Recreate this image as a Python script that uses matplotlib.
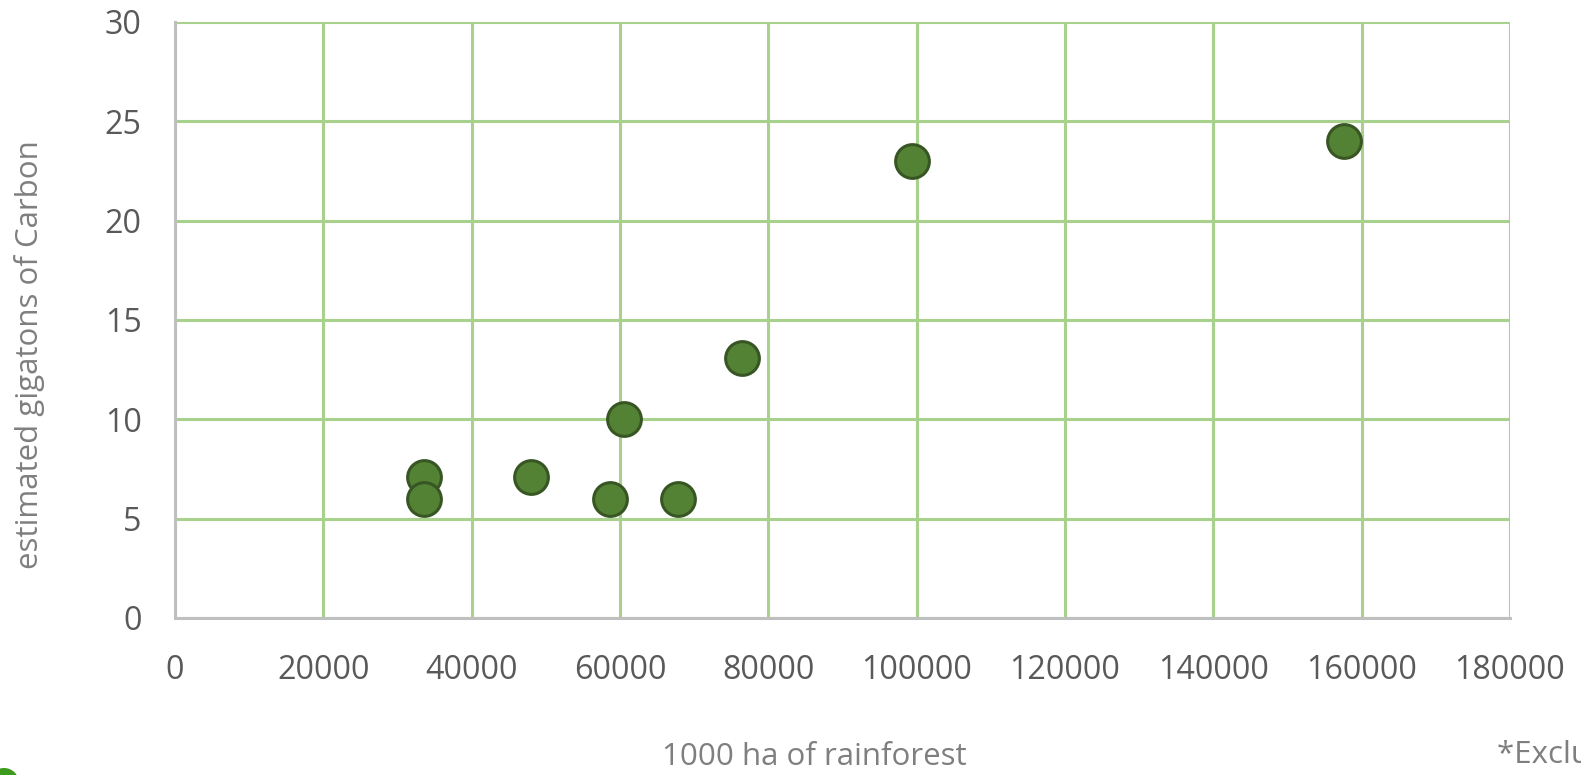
import matplotlib
matplotlib.use("Agg")
import matplotlib.pyplot as plt
from matplotlib.patches import Ellipse

# Superficie de bosque lluvioso (1000 ha) vs carbono estimado (Gt)
rainforest_kha = [33600, 33600, 48000, 58600, 60500, 67800, 76400, 99400, 157600]
carbon_gt = [7.1, 6.0, 7.1, 6.0, 10.0, 6.0, 13.1, 23.0, 24.0]

x_ticks = [0, 20000, 40000, 60000, 80000, 100000, 120000, 140000, 160000, 180000]
y_ticks = [0, 5, 10, 15, 20, 25, 30]

plt.rcParams["font.family"] = ["Open Sans", "DejaVu Sans"]

W, H = 1581, 775
fig = plt.figure(figsize=(W / 100, H / 100), dpi=100)
ax = fig.add_axes([175 / W, 1 - 618 / H, (1510 - 175) / W, (618 - 22) / H])

ax.scatter(rainforest_kha, carbon_gt, s=590, c="#548235", edgecolors="#375623",
           linewidths=2.2, zorder=5, clip_on=False)

ax.set_xlim(0, 180000)
ax.set_ylim(0, 30)
ax.set_xticks(x_ticks)
ax.set_yticks(y_ticks)
ax.set_xticklabels([str(t) for t in x_ticks])
ax.set_yticklabels([str(t) for t in y_ticks])
ax.grid(True, color="#A9D18E", lw=2.2, zorder=0)
ax.set_axisbelow(True)

for side in ("top", "right"):
    ax.spines[side].set_visible(False)
for side in ("left", "bottom"):
    ax.spines[side].set_color("#BFBFBF")
    ax.spines[side].set_linewidth(2.2)
    ax.spines[side].set_zorder(1)

ax.tick_params(length=0, labelsize=23.2, labelcolor="#595959")
ax.tick_params(axis="x", pad=26)
ax.tick_params(axis="y", pad=24)

fig.text(814 / W, 1 - 757 / H, "1000 ha of rainforest", ha="center", va="center",
         fontsize=22.5, color="#7F7F7F")
fig.text(30 / W, 1 - 355 / H, "estimated gigatons of Carbon", ha="center", va="center",
         rotation=90, fontsize=22.5, color="#7F7F7F")
fig.text(1497 / W, 1 - 755 / H, "*Excluding Brazil", ha="left", va="center",
         fontsize=22.5, color="#7F7F7F")

# trozo de icono verde cortado en la esquina inferior izquierda
fig.patches.append(Ellipse((4, -8), 30, 30, transform=None, facecolor="#3D9B1C",
                           edgecolor="none"))

fig.savefig("out.png", dpi=100)
